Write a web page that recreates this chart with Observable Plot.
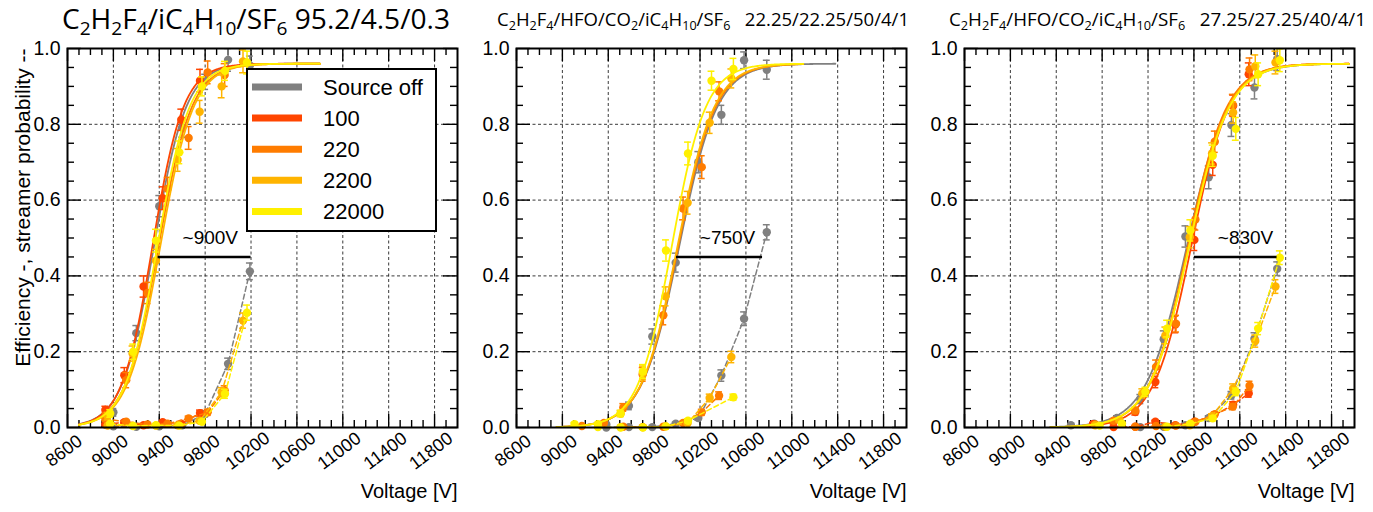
<!DOCTYPE html>
<html><head><meta charset="utf-8">
<script src="https://cdn.jsdelivr.net/npm/d3@7"></script>
<script src="https://cdn.jsdelivr.net/npm/@observablehq/plot@0.6"></script>
<style>
html,body{margin:0;padding:0;background:#fff;}
#wrap{position:relative;width:1373px;height:512px;overflow:hidden;font-family:"Liberation Sans",Arial,sans-serif;}
#wrap svg{position:absolute;top:0;overflow:visible;}
</style></head><body><div id="wrap"></div>
<script>
// ---------- categories / labels ----------
const SERIES = ["Source off", "100", "220", "2200", "22000"];
const COLORS = ["#808080", "#ff4500", "#ff7c00", "#ffb400", "#fff000"];
const xMajor = [8600, 9000, 9400, 9800, 10200, 10600, 11000, 11400, 11800];
const yMajor = [0, 0.2, 0.4, 0.6, 0.8, 1.0];
const yTickLabels = ["0.0", "0.2", "0.4", "0.6", "0.8", "1.0"];
const titles = [
  "C_2H_2F_4/iC_4H_{10}/SF_6 95.2/4.5/0.3",
  "C_2H_2F_4/HFO/CO_2/iC_4H_{10}/SF_6   22.25/22.25/50/4/1",
  "C_2H_2F_4/HFO/CO_2/iC_4H_{10}/SF_6   27.25/27.25/40/4/1"
];
const xLabel = "Voltage [V]";
const yLabel = "Efficiency -, streamer probability --";
const PLATEAU = 0.96;

// ---------- panel 1 : [voltage, value, error] ----------
const p1Eff = {
  "Source off": [[9000,0.040,0.010],[9200,0.249,0.020],[9400,0.584,0.028],[9600,0.791,0.025],[9800,0.912,0.020],[10000,0.970,0.030],[10190,0.955,0.025]],
  "100": [[8930,0.046,0.010],[9095,0.138,0.020],[9263,0.372,0.028],[9430,0.605,0.030],[9592,0.812,0.028],[9755,0.915,0.030]],
  "220": [[8930,0.028,0.010],[9112,0.125,0.020],[9298,0.355,0.028],[9473,0.630,0.030],[9656,0.764,0.030],[9822,0.937,0.030],[9970,0.930,0.030]],
  "2200": [[8950,0.030,0.010],[9167,0.195,0.020],[9371,0.440,0.030],[9560,0.706,0.030],[9752,0.833,0.030],[9944,0.900,0.030],[10130,0.966,0.030]],
  "22000": [[8972,0.037,0.010],[9173,0.200,0.020],[9371,0.493,0.030],[9575,0.726,0.030],[9772,0.900,0.025],[9973,0.941,0.025],[10165,0.963,0.030]]
};
const p1Str = {
  "Source off": [[9000,0.003,0.002],[9200,0.002,0.002],[9400,0.003,0.002],[9600,0.006,0.003],[9800,0.036,0.008],[10000,0.168,0.015],[10190,0.412,0.022]],
  "100": [[8930,0.008,0.003],[9095,0.014,0.004],[9263,0.006,0.003],[9430,0.014,0.004],[9592,0.010,0.004],[9755,0.038,0.008]],
  "220": [[8930,0.023,0.005],[9112,0.015,0.004],[9298,0.008,0.003],[9473,0.010,0.003],[9656,0.024,0.006],[9822,0.040,0.008],[9970,0.098,0.012]],
  "2200": [[8950,0.005,0.003],[9167,0.005,0.003],[9371,0.005,0.003],[9560,0.006,0.003],[9752,0.018,0.005],[9944,0.093,0.012],[10130,0.282,0.020]],
  "22000": [[8972,0.010,0.003],[9173,0.004,0.003],[9371,0.006,0.003],[9575,0.005,0.003],[9772,0.015,0.005],[9973,0.089,0.012],[10165,0.303,0.020]]
};
// fit parameters: [HV50, width, from, to]
const p1Fit = {
  "Source off": [9355,140,8700,10800], "100": [9342,135,8700,10800], "220": [9395,145,8700,10800],
  "2200": [9410,145,8700,10800], "22000": [9385,140,8700,10800]
};
const p1Ann = {x1: 9390, x2: 10200, y: 0.45, label: "~900V", tx: 9845, ty: 0.50};

// ---------- panel 2 ----------
const p2Eff = {
  "Source off": [[9383,0.008,0.004],[9580,0.057,0.010],[9784,0.240,0.020],[9988,0.435,0.025],[10185,0.700,0.028],[10386,0.825,0.025],[10584,0.969,0.022],[10782,0.944,0.025]],
  "220": [[9170,0.004,0.003],[9362,0.012,0.004],[9531,0.053,0.010],[9700,0.140,0.018],[9880,0.296,0.025],[10052,0.578,0.030],[10215,0.687,0.030],[10366,0.887,0.025]],
  "2200": [[9508,0.037,0.008],[9702,0.144,0.018],[9900,0.346,0.025],[10092,0.593,0.030],[10284,0.804,0.028],[10473,0.921,0.025]],
  "22000": [[9106,0.009,0.004],[9310,0.009,0.004],[9508,0.037,0.008],[9702,0.148,0.018],[9903,0.467,0.028],[10095,0.723,0.030],[10300,0.915,0.025],[10491,0.946,0.028]]
};
const p2Str = {
  "Source off": [[9383,0.000,0.001],[9580,0.001,0.001],[9784,0.001,0.001],[9988,0.010,0.004],[10185,0.025,0.006],[10386,0.137,0.015],[10584,0.287,0.018],[10782,0.515,0.020]],
  "220": [[9531,0.002,0.002],[9700,0.001,0.001],[9880,0.002,0.002],[10052,0.012,0.004],[10215,0.040,0.008],[10366,0.084,0.010]],
  "2200": [[9508,0.001,0.001],[9702,0.001,0.001],[9900,0.003,0.002],[10092,0.012,0.004],[10284,0.078,0.010],[10473,0.186,0.015]],
  "22000": [[9310,0.001,0.001],[9508,0.000,0.001],[9702,0.000,0.001],[9903,0.003,0.002],[10095,0.018,0.005],[10491,0.080,0.008]]
};
const p2Fit = {
  "Source off": [10020,165,8950,11380], "220": [10012,162,8950,11100],
  "2200": [10005,160,8950,11100], "22000": [9955,148,8950,11100]
};
const p2Ann = {x1: 9995, x2: 10745, y: 0.45, label: "~750V", tx: 10440, ty: 0.50};

// ---------- panel 3 ----------
const p3Eff = {
  "Source off": [[9528,0.006,0.003],[9730,0.010,0.004],[9929,0.025,0.006],[10133,0.075,0.012],[10337,0.233,0.022],[10526,0.504,0.028],[10729,0.660,0.030],[10927,0.798,0.030],[11128,0.897,0.030],[11326,0.972,0.030]],
  "100": [[9720,0.009,0.004],[9900,0.015,0.005],[10089,0.041,0.008],[10264,0.120,0.015],[10438,0.272,0.022],[10604,0.495,0.028],[10764,0.693,0.028],[10942,0.849,0.028],[11078,0.932,0.030]],
  "220": [[9740,0.008,0.004],[9900,0.018,0.005],[10089,0.045,0.008],[10270,0.160,0.018],[10444,0.274,0.022],[10613,0.549,0.028],[10782,0.754,0.028],[10939,0.851,0.028],[11085,0.945,0.030]],
  "2200": [[9740,0.006,0.004],[9950,0.020,0.005],[10150,0.090,0.012],[10351,0.243,0.022],[10564,0.502,0.028],[10758,0.723,0.028],[10942,0.831,0.028],[11135,0.953,0.030],[11311,0.963,0.030]],
  "22000": [[9778,0.005,0.003],[9973,0.010,0.004],[10177,0.094,0.012],[10366,0.261,0.022],[10569,0.520,0.028],[10764,0.717,0.028],[10965,0.788,0.030],[11160,0.932,0.030],[11349,0.969,0.030]]
};
const p3Str = {
  "Source off": [[10133,0.001,0.001],[10337,0.002,0.002],[10526,0.006,0.003],[10729,0.025,0.006],[10927,0.085,0.010],[11128,0.234,0.016],[11326,0.419,0.018]],
  "100": [[9900,0.001,0.001],[10089,0.002,0.002],[10264,0.015,0.004],[10438,0.006,0.003],[10604,0.015,0.004],[10764,0.030,0.006],[10942,0.060,0.008],[11078,0.090,0.010]],
  "220": [[10089,0.002,0.002],[10270,0.004,0.002],[10444,0.005,0.003],[10613,0.015,0.004],[10782,0.035,0.006],[10939,0.055,0.008],[11085,0.110,0.012]],
  "2200": [[10351,0.002,0.002],[10564,0.006,0.003],[10758,0.030,0.006],[10942,0.103,0.012],[11135,0.228,0.016],[11311,0.372,0.018]],
  "22000": [[10366,0.002,0.002],[10569,0.010,0.004],[10764,0.024,0.006],[10965,0.094,0.010],[11160,0.261,0.016],[11349,0.448,0.018]]
};
const p3Fit = {
  "Source off": [10540,180,9350,11950], "100": [10578,165,9350,11950], "220": [10548,170,9350,11950],
  "2200": [10558,172,9350,11950], "22000": [10560,175,9350,11950]
};
const p3Ann = {x1: 10604, x2: 11325, y: 0.45, label: "~830V", tx: 11050, ty: 0.50};

// ---------- drawing ----------
const PW = 390, PH = 379, MT = 48, MB = 85;
const xMinor = d3.range(8700, 12000, 100).filter(v => !xMajor.includes(v));
const yMinor = d3.range(1, 20).filter(i => i % 4 !== 0).map(i => i * 0.05);
const FONT = "Liberation Sans, Arial, sans-serif";

function makePanel({left, mLeft, eff, str, fit, ann, withYLabel}) {
  const width = mLeft + PW + 6;
  const marks = [];
  const gridStyle = {stroke: "#222", strokeWidth: 0.9, strokeDasharray: "3,2.5"};
  marks.push(Plot.ruleX(xMajor.slice(1), {x: d => d, ...gridStyle}));
  marks.push(Plot.ruleY(yMajor.slice(1, -1), {y: d => d, ...gridStyle}));
  const tk = {stroke: "#000", strokeWidth: 1.4};
  marks.push(Plot.tickX(xMajor, {x: d => d, insetTop: PH - 13, ...tk}));
  marks.push(Plot.tickX(xMajor, {x: d => d, insetBottom: PH - 13, ...tk}));
  marks.push(Plot.tickX(xMinor, {x: d => d, insetTop: PH - 7, ...tk}));
  marks.push(Plot.tickX(xMinor, {x: d => d, insetBottom: PH - 7, ...tk}));
  marks.push(Plot.tickY(yMajor, {y: d => d, insetRight: PW - 14, ...tk}));
  marks.push(Plot.tickY(yMajor, {y: d => d, insetLeft: PW - 14, ...tk}));
  marks.push(Plot.tickY(yMinor, {y: d => d, insetRight: PW - 7, ...tk}));
  marks.push(Plot.tickY(yMinor, {y: d => d, insetLeft: PW - 7, ...tk}));

  SERIES.forEach((s, i) => {
    const col = COLORS[i];
    if (fit[s]) {
      const [m, w, a, b] = fit[s];
      const curve = d3.range(a, b + 1, 10).map(V => ({V, v: PLATEAU / (1 + Math.exp(-(V - m) / w))}));
      marks.push(Plot.line(curve, {x: "V", y: "v", stroke: col, strokeWidth: 1.8, clip: true}));
    }
    const groups = [];
    if (str[s]) {
      marks.push(Plot.line(str[s], {x: d => d[0], y: d => d[1], stroke: col, strokeWidth: 1.5, strokeDasharray: "5,3"}));
      groups.push(str[s]);
    }
    if (eff[s]) groups.push(eff[s]);
    for (const g of groups) {
      marks.push(Plot.ruleX(g, {x: d => d[0], y1: d => Math.max(0, d[1] - d[2]), y2: d => Math.min(1, d[1] + d[2]), stroke: col, strokeWidth: 1.5}));
      marks.push(Plot.ruleY(g, {y: d => d[1] + d[2], x1: d => d[0] - 30, x2: d => d[0] + 30, stroke: col, strokeWidth: 1.5, clip: true}));
      marks.push(Plot.ruleY(g, {y: d => d[1] - d[2], x1: d => d[0] - 30, x2: d => d[0] + 30, stroke: col, strokeWidth: 1.5, clip: true}));
      marks.push(Plot.dot(g, {x: d => d[0], y: d => d[1], r: 4.2, fill: col, stroke: "none"}));
    }
  });

  // annotation
  marks.push(Plot.ruleY([ann], {y: "y", x1: "x1", x2: "x2", stroke: "#000", strokeWidth: 2.4}));
  marks.push(Plot.text([ann], {x: "tx", y: "ty", text: "label", fontSize: 19, fill: "#000"}));

  // tick labels
  marks.push(Plot.text(xMajor, {x: d => d, frameAnchor: "bottom", dy: 28, rotate: -37, text: d => String(d), fontSize: 18, textAnchor: "middle", fill: "#000"}));
  marks.push(Plot.text(yMajor, {y: d => d, frameAnchor: "left", dx: -7, textAnchor: "end", text: (d, i) => yTickLabels[i], fontSize: 19.5, fill: "#000"}));
  marks.push(Plot.text([xLabel], {frameAnchor: "bottom-right", dy: 70, textAnchor: "end", fontSize: 20, fill: "#000"}));
  if (withYLabel) {
    marks.push(Plot.text([yLabel], {frameAnchor: "top-left", dx: -52, rotate: -90, textAnchor: "end", fontSize: 21, fill: "#000"}));
  }
  marks.push(Plot.frame({stroke: "#000", strokeWidth: 2}));

  const svg = Plot.plot({
    width, height: 512,
    marginLeft: mLeft, marginRight: width - mLeft - PW, marginTop: MT, marginBottom: MB,
    x: {domain: [8600, 12000], axis: null},
    y: {domain: [0, 1], axis: null},
    style: {fontFamily: FONT, background: "transparent", overflow: "visible"},
    marks
  });
  svg.style.left = left + "px";
  return svg;
}

const wrap = document.getElementById("wrap");
wrap.appendChild(makePanel({left: 0, mLeft: 67, eff: p1Eff, str: p1Str, fit: p1Fit, ann: p1Ann, withYLabel: true}));
wrap.appendChild(makePanel({left: 460, mLeft: 56, eff: p2Eff, str: p2Str, fit: p2Fit, ann: p2Ann, withYLabel: false}));
wrap.appendChild(makePanel({left: 910, mLeft: 54, eff: p3Eff, str: p3Str, fit: p3Fit, ann: p3Ann, withYLabel: false}));

// ---------- overlay: titles and legend ----------
const ov = d3.select(wrap).append("svg").attr("width", 1373).attr("height", 512).style("left", "0px");

function richText(sel, str, F) {
  let i = 0, buf = "", shift = 0;
  const off = 0.22 * F;
  const flush = () => {
    if (buf) {
      const t = sel.append("tspan").text(buf);
      if (shift) { t.attr("dy", -shift); shift = 0; }
      buf = "";
    }
  };
  while (i < str.length) {
    const c = str[i];
    if (c === "_") {
      flush();
      let s;
      if (str[i + 1] === "{") { const j = str.indexOf("}", i); s = str.slice(i + 2, j); i = j + 1; }
      else { s = str[i + 1]; i += 2; }
      sel.append("tspan").attr("font-size", 0.68 * F).attr("dy", off - shift).text(s);
      shift = off;
    } else { buf += c; i++; }
  }
  flush();
}
const titleSpecs = [
  {x: 62, y: 29, F: 27, len: 388},
  {x: 497, y: 26, F: 19, len: 412},
  {x: 949, y: 26, F: 19, len: 417}
];
titles.forEach((t, k) => {
  const s = titleSpecs[k];
  const tx = ov.append("text").attr("x", s.x).attr("y", s.y)
    .attr("font-family", "Open Sans, Noto Sans, sans-serif").attr("font-size", s.F)
    .attr("fill", "#000").style("white-space", "pre")
    .attr("textLength", s.len).attr("lengthAdjust", "spacingAndGlyphs");
  richText(tx, t, s.F);
});

const lg = ov.append("g");
lg.append("rect").attr("x", 247).attr("y", 69).attr("width", 189).attr("height", 162)
  .attr("fill", "#fff").attr("stroke", "#000").attr("stroke-width", 2);
SERIES.forEach((s, i) => {
  const cy = 87 + i * 31.1;
  lg.append("line").attr("x1", 252).attr("x2", 302).attr("y1", cy).attr("y2", cy)
    .attr("stroke", COLORS[i]).attr("stroke-width", 7);
  lg.append("text").attr("x", 323).attr("y", cy + 8).attr("font-family", FONT)
    .attr("font-size", 22).attr("fill", "#000").text(s);
});
</script></body></html>
